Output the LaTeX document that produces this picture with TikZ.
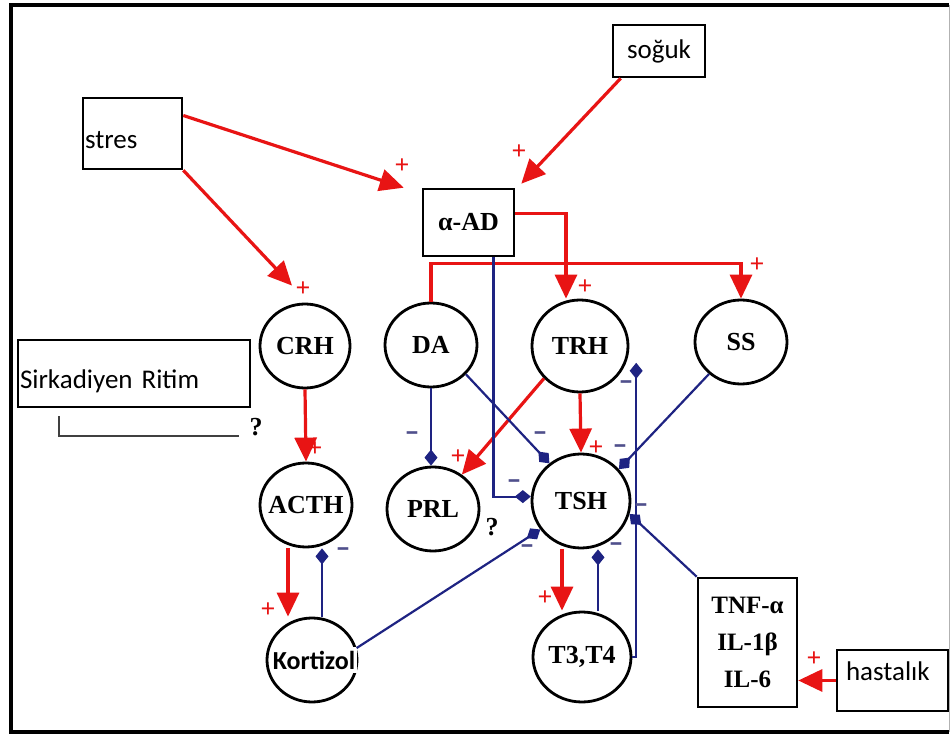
\documentclass[tikz,border=0pt]{standalone}
\usepackage{fontspec}
\setmainfont{Liberation Serif}
\newfontfamily\sansf{Carlito}
\usetikzlibrary{arrows.meta,shapes.geometric,calc}
\definecolor{myred}{RGB}{232,20,20}
\definecolor{navyc}{RGB}{30,35,130}
\definecolor{minusc}{RGB}{80,80,140}
\newcommand\zl[1]{\makebox[0pt]{#1}}
\begin{document}
\begin{tikzpicture}[x=1pt,y=-1pt,
 ell/.style={ellipse,draw=black,line width=2.8pt,inner sep=0pt,font=\bfseries\fontsize{26}{30}\selectfont},
 sbox/.style={rectangle,draw=black,line width=2.6pt,inner sep=1pt,font=\sansf\fontsize{27}{30}\selectfont},
 act/.style={draw=myred,line width=3.2pt,-{Triangle[length=24pt,width=22pt]}},
 inh/.style={draw=navyc,line width=2.2pt,-{Diamond[length=16pt,width=13pt]}},
 plus/.style={text=myred,font=\bfseries\fontsize{26}{26}\selectfont,inner sep=0pt},
 minus/.style={text=minusc,font=\sansf\bfseries\fontsize{30}{30}\selectfont,inner sep=0pt},
 qm/.style={font=\bfseries\fontsize{26}{26}\selectfont,inner sep=0pt}
]
\useasboundingbox (0,0) rectangle (951,735);
\fill[white] (0,0) rectangle (951,735);
% frame
\draw[line width=3.5pt] (949,5) -- (11,5) -- (11,732) -- (949,732);
\draw[line width=1pt,black!30] (949,5) -- (949,732);

% boxes
\node[sbox,minimum width=99pt,minimum height=71pt,text width=95pt,align=left,text height=30pt,text depth=0pt] (stres) at (132.5,133.5) {stres};
\node[sbox,minimum width=92pt,minimum height=52pt] (soguk) at (659,51) {soğuk};
\node[rectangle,draw=black,line width=2.6pt,minimum width=91pt,minimum height=67pt,inner sep=0pt,font=\bfseries\fontsize{26}{30}\selectfont] (AD) at (468.5,222.5) {α-AD};
\node[sbox,minimum width=232pt,minimum height=67pt,text width=228pt,align=left,text height=30pt,text depth=0pt] (sirk) at (134,373.5) {Sirkadiyen Ritim};
\node[sbox,minimum width=111pt,minimum height=61pt,text width=93pt,align=left,text height=20pt,text depth=20pt] (hast) at (892.5,680.5) {hastalık};
\node[rectangle,draw=black,line width=2.6pt,minimum width=99pt,minimum height=129pt,inner sep=0pt,align=center,font=\bfseries\fontsize{25}{37}\selectfont] (tnf) at (747.5,642.5) {TNF-α\\IL-1β\\IL-6};

% ellipses
\node[ell,minimum width=90pt,minimum height=84pt] (CRH) at (305,346) {\zl{CRH}};
\node[ell,minimum width=92pt,minimum height=84pt] (DA) at (431,345) {\zl{DA}};
\node[ell,minimum width=96pt,minimum height=92pt] (TRH) at (580,346) {\zl{TRH}};
\node[ell,minimum width=92pt,minimum height=84pt] (SS) at (741,342) {\zl{SS}};
\node[ell,minimum width=92pt,minimum height=84pt] (ACTH) at (306,505) {\zl{ACTH}};
\node[ell,minimum width=92pt,minimum height=84pt] (PRL) at (433,509) {\zl{PRL}};
\node[ell,minimum width=98pt,minimum height=94pt] (TSH) at (581,501) {\zl{TSH}};
\node[ell,minimum width=90pt,minimum height=84pt] (Kort) at (312,660) {};
\node[fill=white,inner xsep=2pt,inner ysep=4pt,font=\sansf\bfseries\fontsize{26}{28}\selectfont] (kortlbl) at (314,660) {Kortizol};
\node[ell,minimum width=98pt,minimum height=90pt] (T34) at (582,657) {\zl{T3,T4}};

% question marks
\node[qm] (q1) at (256,427) {?};
\node[qm] (q2) at (492,527) {?};
\draw[line width=2.4pt,draw=black!75] ([xshift=42pt,yshift=-8pt]sirk.south west) |- ([xshift=-10pt]q1.south west);

% red activating arrows
\draw[act] ([yshift=18pt]stres.east) -- ([xshift=-18pt]AD.north west);
\draw[act] (stres.south east) -- ([xshift=-13pt,yshift=17pt]CRH.north);
\draw[act] ([xshift=9pt]soguk.south west) -- ([xshift=6pt,yshift=4pt]AD.north east);
\draw[act] ([yshift=9pt]AD.east) -| ([xshift=-14pt]TRH.north);
\draw[act] (DA.north) -- ++(0,-38) -| (SS.north);
\draw[act] (CRH.south) -- (ACTH.north);
\draw[act] ([xshift=-18pt]ACTH.south) -- ([xshift=-18pt]ACTH.south |- Kort.north);
\draw[act] (TRH.south) -- (TSH.north);
\draw[act] (TRH.-138) -- (PRL.50);
\draw[act] ([xshift=-19pt]TSH.south) -- ([xshift=-19pt]TSH.south |- T34.north);
\draw[act] (hast.west) -- (hast.west -| tnf.east);

% blue inhibiting lines
\draw[inh] (DA.south) -- (DA.south |- PRL.north);
\draw[inh] (DA.-40) -- (TSH.130);
\draw[inh] (SS.225) -- (TSH.40);
\draw[inh] ([xshift=25pt]AD.south) |- (TSH.175);
\draw[inh] (T34.east) -| ([xshift=10pt]TRH.-20);
\draw[inh] (tnf.north west) -- (TSH.-15);
\draw[inh] ([xshift=16pt]T34.north) -- ([xshift=16pt]T34.north |- TSH.south);
\draw[inh] (Kort.15) -- (TSH.-145);
\draw[inh] ([xshift=10pt]Kort.north) -- ([xshift=10pt]Kort.north |- ACTH.south);

% plus signs
\node[plus] (p1) at (402,166) {+};
\node[plus] (p2) at (519,152) {+};
\node[plus] (p3) at (303,289) {+};
\node[plus] (p4) at (585,287) {+};
\node[plus] (p5) at (757,265) {+};
\node[plus] (p6) at (315,449) {+};
\node[plus] (p7) at (268,610) {+};
\node[plus] (p8) at (458,457) {+};
\node[plus] (p9) at (596,448) {+};
\node[plus] (p10) at (545,598) {+};
\node[plus] (p11) at (814,659) {+};

% minus signs
\node[minus] (m1) at (412,437) {–};
\node[minus] (m2) at (540,437) {–};
\node[minus] (m3) at (626,386) {–};
\node[minus] (m4) at (620,450) {–};
\node[minus] (m5) at (514,485) {–};
\node[minus] (m6) at (527,550) {–};
\node[minus] (m7) at (343,553) {–};
\node[minus] (m8) at (616,548) {–};
\node[minus] (m9) at (641,509) {–};
\end{tikzpicture}
\end{document}
